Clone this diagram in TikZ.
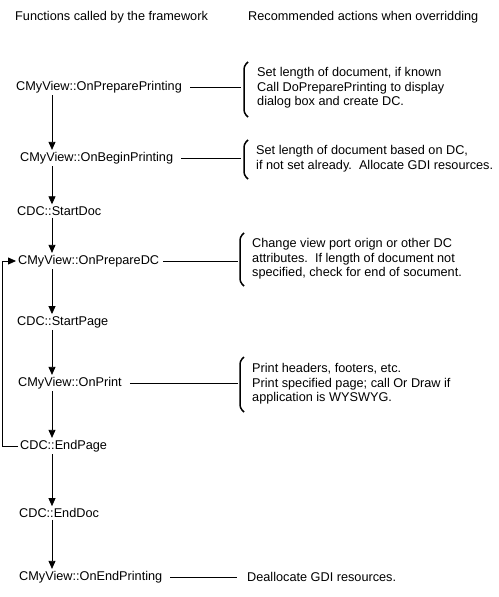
\documentclass[tikz,border=0pt]{standalone}
\usepackage{fontspec}
\setmainfont{Liberation Sans}
\usetikzlibrary{arrows.meta}

\tikzset{
    func/.style={anchor=west, inner sep=2pt},
    note/.style={anchor=west, align=left, inner sep=1pt},
    flow/.style={-{Triangle[width=7pt, length=8pt]}, line width=0.8pt},
    link/.style={line width=0.8pt},
    bracket/.style={line width=1.5pt, rounded corners=3pt},
}

\begin{document}
\begin{tikzpicture}[x=1pt, y=-1pt, font=\fontsize{12.7}{14.6}\selectfont]
    \useasboundingbox (0,0) rectangle (498,597);

    % Column headings
    \node[func] (headfunc) at (13,17) {Functions called by the framework};
    \node[func] (headnote) at (246,17) {Recommended actions when overridding};

    % Functions called by the framework
    \node[func] (prepprint) at (14,87) {CMyView::OnPreparePrinting};
    \node[func] (beginprint) at (18,158) {CMyView::OnBeginPrinting};
    \node[func] (startdoc) at (15,211) {CDC::StartDoc};
    \node[func] (prepdc) at (16,261) {CMyView::OnPrepareDC};
    \node[func] (startpage) at (15,322) {CDC::StartPage};
    \node[func] (onprint) at (16,383) {CMyView::OnPrint};
    \node[func] (endpage) at (18,446) {CDC::EndPage};
    \node[func] (enddoc) at (17,513) {CDC::EndDoc};
    \node[func] (endprint) at (17,577) {CMyView::OnEndPrinting};

    % Call order
    \coordinate (col) at (52,0);
    \draw[flow] (prepprint.south -| col) -- (beginprint.north -| col);
    \draw[flow] (beginprint.south -| col) -- (startdoc.north -| col);
    \draw[flow] (startdoc.south -| col) -- (prepdc.north -| col);
    \draw[flow] (prepdc.south -| col) -- (startpage.north -| col);
    \draw[flow] (startpage.south -| col) -- (onprint.north -| col);
    \draw[flow] (onprint.south -| col) -- (endpage.north -| col);
    \draw[flow] (endpage.south -| col) -- (enddoc.north -| col);
    \draw[flow] (enddoc.south -| col) -- (endprint.north -| col);

    % Next page
    \coordinate (loop) at (2,446);
    \draw[flow] (endpage.west) -- (loop) |- (prepdc.west);

    % Recommended actions
    \node[note] (noteprepprint) at (256,88) {Set length of document, if known\\Call DoPreparePrinting to display\\dialog box and create DC.};
    \node[note] (notebeginprint) at (255,159) {Set length of document based on DC,\\if not set already.\ \ Allocate GDI resources.};
    \node[note] (noteprepdc) at (251,259) {Change view port orign or other DC\\attributes.\ \ If length of document not\\specified, check for end of socument.};
    \node[note] (noteonprint) at (251,384) {Print headers, footers, etc.\\Print specified page; call Or Draw if\\application is WYSWYG.};
    \node[note] (noteendprint) at (246,577) {Deallocate GDI resources.};

    % Brackets
    \draw[bracket] (248,62) -- (244,66) -- (244,113) -- (248,117);
    \draw[bracket] (248,140) -- (244,144) -- (244,175) -- (248,179);
    \draw[bracket] (244,233) -- (240,237) -- (240,282) -- (244,286);
    \draw[bracket] (244,357) -- (240,361) -- (240,408) -- (244,412);
    \coordinate (bprepprint) at (241,87);
    \coordinate (bbeginprint) at (241,158);
    \coordinate (bprepdc) at (238,261);
    \coordinate (bonprint) at (238,383);
    \coordinate (bendprint) at (237,577);

    % Links to the actions
    \draw[link] ([xshift=6pt]prepprint.east) -- (bprepprint);
    \draw[link] ([xshift=6pt]beginprint.east) -- (bbeginprint);
    \draw[link] ([xshift=2pt]prepdc.east) -- (bprepdc);
    \draw[link] ([xshift=6pt]onprint.east) -- (bonprint);
    \draw[link] ([xshift=6pt]endprint.east) -- (bendprint);
\end{tikzpicture}
\end{document}
